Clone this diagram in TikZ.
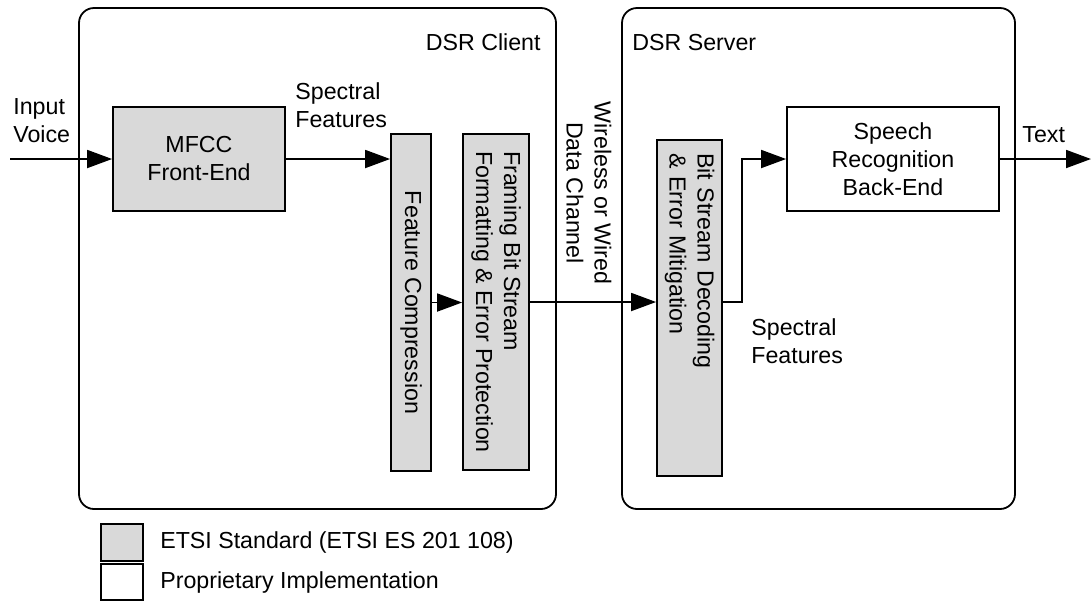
\documentclass[tikz,border=0pt]{standalone}
\usepackage{fontspec}
\setmainfont{Liberation Sans}
\usepackage{tikz}
\usetikzlibrary{shapes,positioning,calc}
\usetikzlibrary{arrows.meta}
\tikzstyle{contenitore} = [rectangle, rounded corners=7.5pt, draw=black, line width=0.9pt, inner sep=0pt]
\tikzstyle{etsi} = [rectangle, fill=gray!30, draw=black, line width=0.9pt, inner sep=0pt, text centered]
\tikzstyle{proprio} = [rectangle, fill=white, draw=black, line width=0.9pt, inner sep=0pt, text centered]
\tikzstyle{etichetta} = [inner sep=0pt, align=left]
\tikzstyle{arrow} = [line width=0.9pt,-{Triangle[length=12.5pt,width=9pt]}]

\begin{document}
\begin{tikzpicture}[x=0.5pt,y=-0.5pt,font=\fontsize{11.6}{14}\selectfont]
\useasboundingbox (0,0) rectangle (1092,601);
% client e server
\node (client) at (317.5,258.5) [contenitore, minimum width=238.5pt, minimum height=250.5pt] {};
\node (server) at (818.5,258.5) [contenitore, minimum width=196.5pt, minimum height=250.5pt] {};
\node[etichetta, anchor=south east] (lclient) at (541,51) {DSR Client};
\node[etichetta, anchor=south west] (lserver) at (632,51) {DSR Server};
% blocchi
\node (mfcc) at (199,159) [etsi, minimum width=86pt, minimum height=52pt, align=center] {MFCC\\Front-End};
\node (fc) at (411,302.5) [etsi, rotate=-90, minimum width=168.5pt, minimum height=20pt] {Feature Compression};
\node (fbs) at (496,302) [etsi, rotate=-90, minimum width=168pt, minimum height=33pt, align=left] {Framing Bit Stream\\Formatting \& Error Protection};
\node (bsd) at (689.5,308) [etsi, rotate=-90, text width=155pt, inner xsep=6.5pt, minimum height=32.5pt, align=left] {Bit Stream Decoding\\\& Error Mitigation};
\node (srb) at (893,159) [proprio, minimum width=106pt, minimum height=52pt, align=center] {Speech\\Recognition\\Back-End};
% frecce
\coordinate (in) at (10,159);
\coordinate (out) at (1091,159);
\draw[arrow] (in) -- (in -| mfcc.west);
\draw[arrow] (mfcc.east) -- (mfcc.east -| fc.south);
\draw[arrow] (fc.north) -- (fc.north -| fbs.south);
\draw[arrow] (fbs.north) -- (fbs.north -| bsd.south);
\draw[arrow] (fbs.north -| bsd.north) -- ++(19,0) |- (srb.west);
\draw[arrow] (srb.east) -- (out);
% etichette
\node[etichetta, anchor=south west] (linput) at (13,143) {Input\\Voice};
\node[etichetta, anchor=south west] (lspec1) at (295,128) {Spectral\\Features};
\node[etichetta, anchor=south west] (lspec2) at (751,364) {Spectral\\Features};
\node[etichetta, anchor=south west] (ltext) at (1022,143) {Text};
\node[inner sep=0pt, rotate=-90, align=center] (canale) at (589,193) {Wireless or Wired\\Data Channel};
% legenda
\node (legetsi) at (122,542.5) [etsi, minimum width=21pt, minimum height=18.5pt] {};
\node (legprop) at (122,582) [proprio, minimum width=21pt, minimum height=18pt] {};
\node[etichetta, right=8pt of legetsi] (tetsi) {ETSI Standard (ETSI ES 201 108)};
\node[etichetta, right=8pt of legprop] (tprop) {Proprietary Implementation};
\end{tikzpicture}
\end{document}
